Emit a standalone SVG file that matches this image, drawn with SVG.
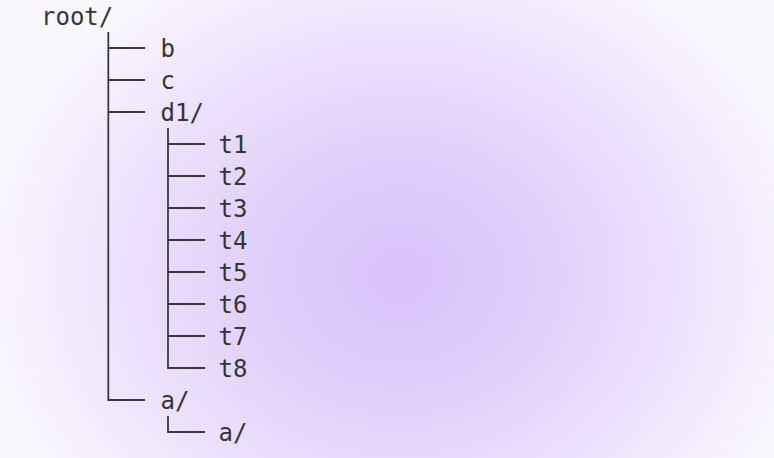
<svg xmlns="http://www.w3.org/2000/svg" width="774" height="458" viewBox="0 0 774 458">
  <defs>
    <radialGradient id="bg" gradientUnits="userSpaceOnUse" cx="400" cy="275" r="420" gradientTransform="translate(400 275) scale(1 0.85) translate(-400 -275)">
      <stop offset="0" stop-color="#d9c2fb"/>
      <stop offset="0.35" stop-color="#e1cffb"/>
      <stop offset="0.7" stop-color="#eee4fd"/>
      <stop offset="1" stop-color="#faf7fe"/>
    </radialGradient>
    <style>
      .lbl { font-family: "DejaVu Sans Mono", monospace; font-size: 24px; fill: #353535; }
      .con { stroke: #3a3a3a; stroke-width: 1.8; fill: none; }
    </style>
  </defs>
  <rect x="0" y="0" width="774" height="458" fill="url(#bg)"/>

  <g id="connectors">
    <path class="con" d="M108.3 32 V400 H145"/>
    <path class="con" d="M108.3 48 H145 M108.3 80 H145 M108.3 112 H145"/>
    <path class="con" d="M168 128 V368 H205"/>
    <path class="con" d="M168 144 H205 M168 176 H205 M168 208 H205 M168 240 H205 M168 272 H205 M168 304 H205 M168 336 H205"/>
    <path class="con" d="M168 416 V432 H205"/>
  </g>

  <g id="node-root"><text class="lbl" x="41" y="25">root/</text></g>
  <g id="node-b"><text class="lbl" x="160.6" y="57">b</text></g>
  <g id="node-c"><text class="lbl" x="160.6" y="89">c</text></g>
  <g id="node-d1"><text class="lbl" x="160.6" y="121">d1/</text></g>
  <g id="node-t1"><text class="lbl" x="218.6" y="153">t1</text></g>
  <g id="node-t2"><text class="lbl" x="218.6" y="185">t2</text></g>
  <g id="node-t3"><text class="lbl" x="218.6" y="217">t3</text></g>
  <g id="node-t4"><text class="lbl" x="218.6" y="249">t4</text></g>
  <g id="node-t5"><text class="lbl" x="218.6" y="281">t5</text></g>
  <g id="node-t6"><text class="lbl" x="218.6" y="313">t6</text></g>
  <g id="node-t7"><text class="lbl" x="218.6" y="345">t7</text></g>
  <g id="node-t8"><text class="lbl" x="218.6" y="377">t8</text></g>
  <g id="node-a"><text class="lbl" x="160.6" y="409">a/</text></g>
  <g id="node-a-a"><text class="lbl" x="218.6" y="441">a/</text></g>
</svg>
